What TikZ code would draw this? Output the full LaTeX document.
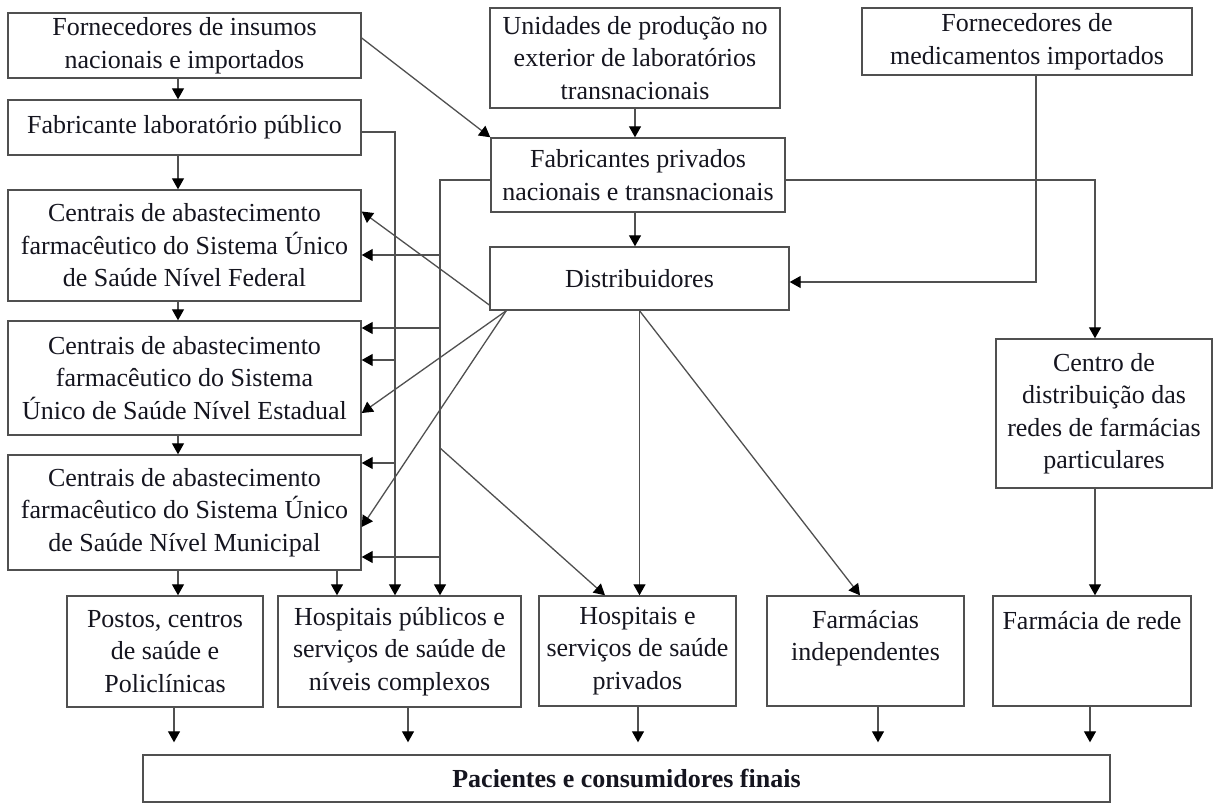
\documentclass[tikz,border=0pt]{standalone}
\usepackage{fontspec}
\setmainfont{Liberation Serif}
\usetikzlibrary{arrows.meta,calc}
\definecolor{lnc}{HTML}{505050}
\definecolor{txc}{HTML}{15151F}
\newcommand{\diafont}{\fontsize{26}{32.5}\selectfont}
\begin{document}
\begin{tikzpicture}[x=1pt,y=-1pt,
  box/.style={draw=lnc, line width=1.4pt, fill=white, inner sep=0pt, align=center, text=txc, font=\diafont},
  txt/.style={inner sep=0pt, align=center, text=txc, font=\diafont},
  arr/.style={draw=lnc, line width=1.3pt, -{Triangle[length=11pt,width=12pt,color=black]}}]
\fill[white] (0,0) rectangle (1219,803);
\useasboundingbox (0,0) rectangle (1219,803);

% left column
\node[box, minimum width=353pt, minimum height=65pt] (fi) at (184.5,45.5) {Fornecedores de insumos\\nacionais e importados};
\node[box, minimum width=353pt, minimum height=55pt] (fp) at (184.5,127.5) {Fabricante laboratório público};
\node[box, minimum width=353pt, minimum height=111pt] (cf) at (184.5,245.5) {Centrais de abastecimento\\farmacêutico do Sistema Único\\de Saúde Nível Federal};
\node[box, minimum width=353pt, minimum height=114pt] (ce) at (184.5,378) {Centrais de abastecimento\\farmacêutico do Sistema\\Único de Saúde Nível Estadual};
\node[box, minimum width=353pt, minimum height=115pt] (cm) at (184.5,512.5) {Centrais de abastecimento\\farmacêutico do Sistema Único\\de Saúde Nível Municipal};

% centre column
\node[box, minimum width=290pt, minimum height=100pt] (up) at (635,58) {Unidades de produção no\\exterior de laboratórios\\transnacionais};
\node[box, minimum width=294pt, minimum height=74pt] (fpriv) at (638,175) {Fabricantes privados\\nacionais e transnacionais};
\node[box, minimum width=299pt, minimum height=63pt] (dist) at (639.5,278.5) {Distribuidores};

% right column
\node[box, minimum width=330pt, minimum height=67pt] (fmed) at (1027,41.5) {Fornecedores de\\medicamentos importados};
\node[box, minimum width=216pt, minimum height=149pt] (cd) at (1104,413.5) {Centro de\\distribuição das\\redes de farmácias\\particulares};

% bottom row
\node[box, minimum width=196pt, minimum height=111pt] (postos) at (165,651.5) {Postos, centros\\de saúde e\\Policlínicas};
\node[box, minimum width=243pt, minimum height=111pt] (hpub) at (399.5,651.5) {Hospitais públicos e\\serviços de saúde de\\níveis complexos};
\node[box, minimum width=197pt, minimum height=110pt] (hpriv) at (637.5,651) {Hospitais e\\serviços de saúde\\privados};
\node[box, minimum width=197pt, minimum height=110pt] (find) at (865.5,651) {};
\node[txt] (findt) at (865.5,638) {Farmácias\\independentes};
\node[box, minimum width=198pt, minimum height=110pt] (frede) at (1092,651) {};
\node[txt] (fredet) at (1092,621) {Farmácia de rede};
\node[box, minimum width=967pt, minimum height=47pt] (pac) at (626.5,778.5) {\bfseries Pacientes e consumidores finais};

% column coordinates
\coordinate (xL) at (178,0);
\coordinate (xU) at (635,0);
\coordinate (xA) at (395,0);
\coordinate (xB) at (440,0);
\coordinate (xM) at (337,0);
\coordinate (xR) at (1095,0);
\coordinate (xF) at (1036,0);
\coordinate (a1) at (395,360);
\coordinate (a2) at (395,463);
\coordinate (b1) at (440,255);
\coordinate (b2) at (440,328);
\coordinate (b3) at (440,557);
\coordinate (b4) at (440,448);

% left chain
\draw[arr] (fi.south -| xL) -- (fp.north -| xL);
\draw[arr] (fp.south -| xL) -- (cf.north -| xL);
\draw[arr] (cf.south -| xL) -- (ce.north -| xL);
\draw[arr] (ce.south -| xL) -- (cm.north -| xL);
\draw[arr] (cm.south -| xL) -- (postos.north -| xL);
\draw[arr] (cm.south -| xM) -- (hpub.north -| xM);

% suppliers to private manufacturers
\draw[arr] ([yshift=7.5pt]fi.east) -- (fpriv.north west);
\draw[arr] (up.south -| xU) -- (fpriv.north -| xU);
\draw[arr] (fpriv.south -| xU) -- (dist.north -| xU);

% public lab line
\draw[arr] ([yshift=-4.5pt]fp.east) -| (hpub.north -| xA);
\draw[arr] (a1) -- (a1 -| ce.east);
\draw[arr] (a2) -- (a2 -| cm.east);

% private manufacturers line
\draw[arr] ([yshift=-5pt]fpriv.west) -| (hpub.north -| xB);
\draw[arr] (b1) -- (b1 -| cf.east);
\draw[arr] (b2) -- (b2 -| ce.east);
\draw[arr] (b3) -- (b3 -| cm.east);
\draw[arr] (b4) -- ([xshift=-32.5pt]hpriv.north);

% distributors
\draw[arr] ([yshift=-26.5pt]dist.west) -- ([yshift=34pt]cf.east);
\draw[arr] ([xshift=17pt]dist.south west) -- ([yshift=-35pt]ce.east);
\draw[arr] ([xshift=17pt]dist.south west) -- ([yshift=-14.5pt]cm.east);
\draw[arr] (dist.south) -- (dist.south |- hpriv.north);
\draw[arr] (dist.south) -- ([xshift=-5.5pt]find.north);

% right side
\draw[arr] ([yshift=-5pt]fpriv.east) -| (cd.north -| xR);
\draw[arr] (cd.south -| xR) -- (frede.north -| xR);
\draw[arr] (fmed.south -| xF) |- ([yshift=-3.5pt]dist.east);

% to final consumers
\coordinate (p0) at (174,0);
\coordinate (p1) at (408,0);
\coordinate (p2) at (638,0);
\coordinate (p3) at (878,0);
\coordinate (p4) at (1090,0);
\draw[arr, shorten >=12pt] (postos.south -| p0) -- (pac.north -| p0);
\draw[arr, shorten >=12pt] (hpub.south -| p1) -- (pac.north -| p1);
\draw[arr, shorten >=12pt] (hpriv.south -| p2) -- (pac.north -| p2);
\draw[arr, shorten >=12pt] (find.south -| p3) -- (pac.north -| p3);
\draw[arr, shorten >=12pt] (frede.south -| p4) -- (pac.north -| p4);
\end{tikzpicture}
\end{document}
